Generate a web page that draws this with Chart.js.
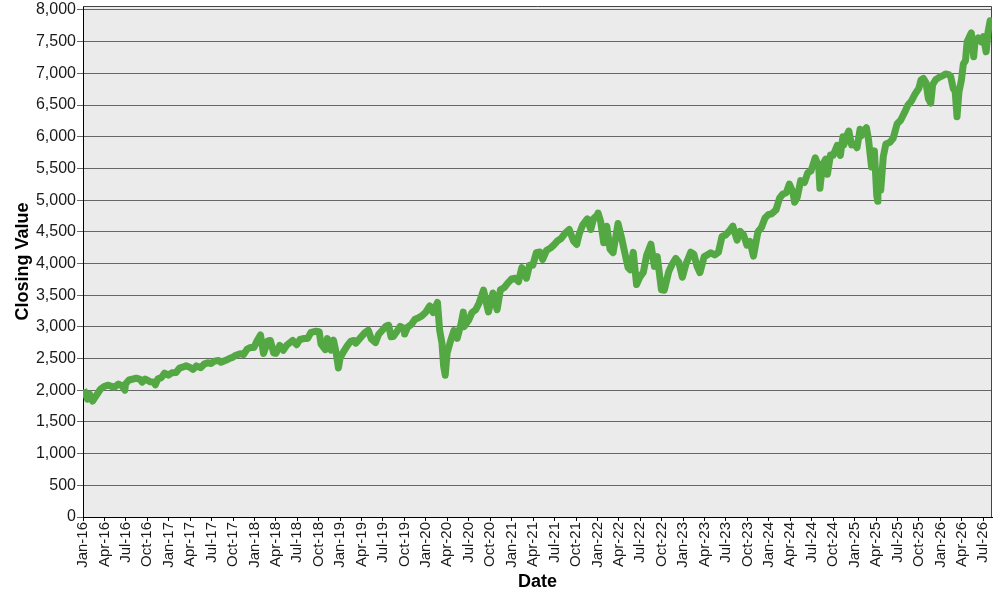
<!DOCTYPE html>
<html>
<head>
<meta charset="utf-8">
<title>Closing Value</title>
<script src="https://cdn.jsdelivr.net/npm/chart.js@4.4.0/dist/chart.umd.min.js"></script>
<style>
    html, body { margin: 0; padding: 0; background: #fff; }
    canvas { display: block; }
</style>
</head>
<body>
<canvas id="closing-chart" width="1000" height="600"></canvas>
<script>
// Closing values, roughly twice a month plus the visible highs and lows
const closeDates = [
    '2016-01-04','2016-01-20','2016-01-29','2016-02-11','2016-02-29','2016-03-15','2016-03-31','2016-04-15','2016-04-29','2016-05-13','2016-05-31','2016-06-15','2016-06-27','2016-06-30','2016-07-15','2016-07-29','2016-08-15','2016-08-31','2016-09-09','2016-09-22','2016-10-14','2016-10-31','2016-11-04','2016-11-15','2016-11-30','2016-12-13','2016-12-30',
    '2017-01-13','2017-01-31','2017-02-15','2017-02-28','2017-03-15','2017-03-31','2017-04-13','2017-04-28','2017-05-17','2017-05-31','2017-06-15','2017-06-30','2017-07-14','2017-07-31','2017-08-11','2017-08-31','2017-09-15','2017-09-29','2017-10-13','2017-10-31','2017-11-15','2017-11-30','2017-12-15','2017-12-29',
    '2018-01-12','2018-01-26','2018-02-08','2018-02-26','2018-03-09','2018-03-23','2018-04-02','2018-04-18','2018-05-03','2018-05-18','2018-06-12','2018-06-29','2018-07-13','2018-07-31','2018-08-15','2018-08-29','2018-09-20','2018-10-03','2018-10-11','2018-10-29','2018-11-07','2018-11-23','2018-12-03','2018-12-14','2018-12-24','2018-12-31',
    '2019-01-15','2019-01-31','2019-02-15','2019-02-28','2019-03-08','2019-03-29','2019-04-15','2019-04-30','2019-05-13','2019-05-31','2019-06-14','2019-06-28','2019-07-15','2019-07-26','2019-08-05','2019-08-15','2019-08-30','2019-09-13','2019-09-30','2019-10-02','2019-10-15','2019-10-31','2019-11-15','2019-11-29','2019-12-13','2019-12-31',
    '2020-01-17','2020-01-31','2020-02-19','2020-02-28','2020-03-09','2020-03-16','2020-03-23','2020-03-31','2020-04-15','2020-04-29','2020-05-13','2020-05-29','2020-06-08','2020-06-11','2020-06-30','2020-07-15','2020-07-31','2020-08-14','2020-09-02','2020-09-23','2020-10-12','2020-10-30','2020-11-13','2020-11-30','2020-12-15','2020-12-31',
    '2021-01-15','2021-01-29','2021-02-12','2021-03-04','2021-03-17','2021-03-31','2021-04-15','2021-04-30','2021-05-12','2021-05-28','2021-06-15','2021-06-30','2021-07-15','2021-07-30','2021-08-16','2021-09-02','2021-09-20','2021-10-04','2021-10-15','2021-10-29','2021-11-18','2021-11-30','2021-12-03','2021-12-15','2021-12-31',
    '2022-01-03','2022-01-14','2022-01-27','2022-02-09','2022-02-23','2022-03-08','2022-03-29','2022-04-14','2022-04-29','2022-05-11','2022-05-20','2022-06-02','2022-06-16','2022-06-30','2022-07-15','2022-07-29','2022-08-16','2022-08-31','2022-09-12','2022-09-30','2022-10-12','2022-10-31','2022-11-15','2022-11-30','2022-12-13','2022-12-28',
    '2023-01-13','2023-02-02','2023-02-15','2023-03-01','2023-03-13','2023-03-31','2023-04-14','2023-04-28','2023-05-15','2023-05-31','2023-06-15','2023-06-30','2023-07-14','2023-07-31','2023-08-18','2023-08-31','2023-09-15','2023-09-29','2023-10-12','2023-10-27','2023-11-15','2023-11-30','2023-12-15','2023-12-29',
    '2024-01-12','2024-01-31','2024-02-15','2024-02-29','2024-03-15','2024-03-28','2024-04-12','2024-04-19','2024-04-30','2024-05-15','2024-05-31','2024-06-14','2024-06-28','2024-07-16','2024-07-31','2024-08-05','2024-08-16','2024-08-30','2024-09-06','2024-09-19','2024-10-01','2024-10-18','2024-10-31','2024-11-11','2024-11-15','2024-11-29','2024-12-06','2024-12-18','2024-12-31',
    '2025-01-10','2025-01-23','2025-01-27','2025-02-19','2025-02-28','2025-03-13','2025-03-25','2025-04-04','2025-04-08','2025-04-09','2025-04-21','2025-05-02','2025-05-13','2025-05-30','2025-06-13','2025-06-30','2025-07-15','2025-07-31','2025-08-15','2025-08-29','2025-09-15','2025-09-30','2025-10-10','2025-10-20','2025-10-31','2025-11-10','2025-11-20','2025-11-28','2025-12-11','2025-12-31',
    '2026-01-09','2026-01-22','2026-02-05','2026-02-13','2026-02-24','2026-03-04','2026-03-12','2026-03-20','2026-03-31','2026-04-08','2026-04-17','2026-04-24','2026-05-04','2026-05-12','2026-05-22','2026-05-28','2026-06-10','2026-06-22','2026-07-02','2026-07-14','2026-07-22','2026-07-31','2026-08-05'
];

const closeValues = [
    2012, 1859, 1940, 1829, 1932, 2015, 2060, 2080, 2065, 2046, 2097, 2071, 2000, 2099, 2162, 2174, 2190, 2171, 2128, 2177, 2133, 2126, 2085, 2180, 2199, 2271, 2239,
    2275, 2279, 2349, 2364, 2385, 2363, 2329, 2384, 2357, 2412, 2433, 2423, 2459, 2470, 2441, 2472, 2500, 2519, 2553, 2575, 2564, 2648, 2675, 2674,
    2786, 2873, 2581, 2779, 2786, 2588, 2582, 2708, 2630, 2712, 2786, 2718, 2801, 2816, 2818, 2914, 2931, 2925, 2728, 2641, 2814, 2633, 2790, 2600, 2351, 2507,
    2610, 2704, 2775, 2784, 2743, 2834, 2905, 2946, 2812, 2752, 2887, 2942, 3014, 3026, 2845, 2848, 2926, 3007, 2977, 2887, 2996, 3038, 3120, 3141, 3169, 3231,
    3330, 3226, 3386, 2954, 2747, 2386, 2237, 2585, 2783, 2940, 2820, 3044, 3232, 3002, 3100, 3227, 3271, 3373, 3580, 3237, 3534, 3270, 3585, 3622, 3695, 3756,
    3768, 3714, 3934, 3768, 3974, 3973, 4170, 4181, 4063, 4204, 4246, 4298, 4360, 4395, 4479, 4537, 4358, 4300, 4471, 4605, 4704, 4567, 4538, 4709, 4766,
    4796, 4662, 4326, 4587, 4225, 4170, 4631, 4392, 4132, 3935, 3901, 4176, 3667, 3785, 3863, 4130, 4305, 3955, 4110, 3586, 3577, 3872, 3992, 4080, 4019, 3783,
    3999, 4179, 4148, 3951, 3855, 4109, 4137, 4169, 4136, 4180, 4426, 4450, 4505, 4589, 4370, 4508, 4450, 4288, 4349, 4117, 4502, 4568, 4719, 4770,
    4784, 4846, 5030, 5096, 5117, 5254, 5123, 4967, 5036, 5308, 5278, 5431, 5460, 5667, 5522, 5186, 5554, 5648, 5408, 5713, 5709, 5864, 5705, 6001, 5870, 6032, 6090, 5872, 5882,
    5827, 6119, 6012, 6144, 5955, 5522, 5777, 5074, 4982, 5457, 5158, 5687, 5887, 5912, 5977, 6205, 6260, 6380, 6500, 6560, 6680, 6760, 6900, 6920, 6850, 6600, 6530, 6820, 6900, 6950,
    6960, 6990, 6980, 6950, 6760, 6720, 6316, 6700, 6900, 7150, 7200, 7500, 7580, 7640, 7263, 7520, 7560, 7500, 7580, 7340, 7650, 7830, 7800
];

// Quarterly labels on the date axis
const tickLabels = [
    'Jan-16', 'Apr-16', 'Jul-16', 'Oct-16',
    'Jan-17', 'Apr-17', 'Jul-17', 'Oct-17',
    'Jan-18', 'Apr-18', 'Jul-18', 'Oct-18',
    'Jan-19', 'Apr-19', 'Jul-19', 'Oct-19',
    'Jan-20', 'Apr-20', 'Jul-20', 'Oct-20',
    'Jan-21', 'Apr-21', 'Jul-21', 'Oct-21',
    'Jan-22', 'Apr-22', 'Jul-22', 'Oct-22',
    'Jan-23', 'Apr-23', 'Jul-23', 'Oct-23',
    'Jan-24', 'Apr-24', 'Jul-24', 'Oct-24',
    'Jan-25', 'Apr-25', 'Jul-25', 'Oct-25',
    'Jan-26', 'Apr-26', 'Jul-26'
];

// value axis ticks
const yTickValues = [0, 500, 1000, 1500, 2000, 2500, 3000, 3500, 4000, 4500, 5000, 5500, 6000, 6500, 7000, 7500, 8000];

const MONTHS = ['Jan', 'Feb', 'Mar', 'Apr', 'May', 'Jun', 'Jul', 'Aug', 'Sep', 'Oct', 'Nov', 'Dec'];
const DAY_MS = 86400000;
const ORIGIN = Date.UTC(2016, 0, 1);

// days since 1 Jan 2016
function dayIndex(iso) {
    const [y, m, d] = iso.split('-').map(Number);
    return (Date.UTC(y, m - 1, d) - ORIGIN) / DAY_MS;
}

function tickDay(label) {
    const [mon, yy] = label.split('-');
    return (Date.UTC(2000 + Number(yy), MONTHS.indexOf(mon), 1) - ORIGIN) / DAY_MS;
}

const points = closeDates.map((d, i) => ({ x: dayIndex(d), y: closeValues[i] }));

const FONT = "'Liberation Sans', Arial, sans-serif";

// grey plot background and the top/right frame
const plotFrame = {
    id: 'plotFrame',
    beforeDraw(chart) {
        const { ctx, chartArea: a } = chart;
        ctx.save();
        ctx.fillStyle = '#ebebeb';
        ctx.fillRect(a.left, a.top, a.right - a.left, a.bottom - a.top);
        ctx.restore();
    },
    beforeDatasetsDraw(chart) {
        const { ctx, chartArea: a } = chart;
        ctx.save();
        ctx.strokeStyle = '#444';
        ctx.lineWidth = 1;
        ctx.beginPath();
        ctx.moveTo(a.left, a.top + 0.5);
        ctx.lineTo(a.right - 0.5, a.top + 0.5);
        ctx.lineTo(a.right - 0.5, a.bottom);
        ctx.stroke();
        ctx.restore();
    }
};

const ctx = document.getElementById('closing-chart');

const chart = new Chart(ctx, {
    type: 'line',
    data: {
        datasets: [{
            label: 'Closing Value',
            data: points,
            borderColor: '#53a843',
            borderWidth: 7,
            borderJoinStyle: 'round',
            pointRadius: 0,
            tension: 0,
            fill: false
        }]
    },
    options: {
        responsive: false,
        animation: false,
        devicePixelRatio: 1,
        layout: {
            padding: { top: 6, right: 8, left: 0, bottom: 0 }
        },
        plugins: {
            legend: { display: false },
            tooltip: { enabled: false }
        },
        scales: {
            x: {
                type: 'linear',
                min: 0,
                max: dayIndex('2026-08-08'),
                grid: {
                    drawOnChartArea: false,
                    drawTicks: true,
                    tickLength: 4,
                    color: '#000'
                },
                border: { color: '#000', width: 1 },
                afterBuildTicks: (scale) => {
                    scale.ticks = tickLabels.map(l => ({ value: tickDay(l) }));
                },
                afterFit: (scale) => {
                    scale.height = 83;
                    scale.paddingLeft = 0;
                    scale.paddingRight = 0;
                },
                ticks: {
                    autoSkip: false,
                    minRotation: 90,
                    maxRotation: 90,
                    padding: 1,
                    color: '#1a1a1a',
                    font: { family: FONT, size: 15 },
                    callback: (value, index) => tickLabels[index]
                },
                title: {
                    display: true,
                    text: 'Date',
                    color: '#000',
                    font: { family: FONT, size: 18, weight: 'bold' },
                    padding: { top: 0, bottom: 7 }
                }
            },
            y: {
                min: 0,
                max: 8063,
                grid: {
                    color: '#666',
                    lineWidth: 1,
                    tickLength: 6
                },
                border: { color: '#000', width: 1 },
                afterBuildTicks: (scale) => {
                    scale.ticks = yTickValues.map(v => ({ value: v }));
                },
                afterFit: (scale) => {
                    scale.width = 83;
                    scale.paddingTop = 0;
                    scale.paddingBottom = 0;
                },
                ticks: {
                    padding: 1,
                    color: '#1a1a1a',
                    font: { family: FONT, size: 16 },
                    callback: (value) => value.toLocaleString('en-US')
                },
                title: {
                    display: true,
                    text: 'Closing Value',
                    color: '#000',
                    font: { family: FONT, size: 18, weight: 'bold' },
                    padding: { top: 12, bottom: 0 }
                }
            }
        }
    },
    plugins: [plotFrame]
});
</script>
</body>
</html>
